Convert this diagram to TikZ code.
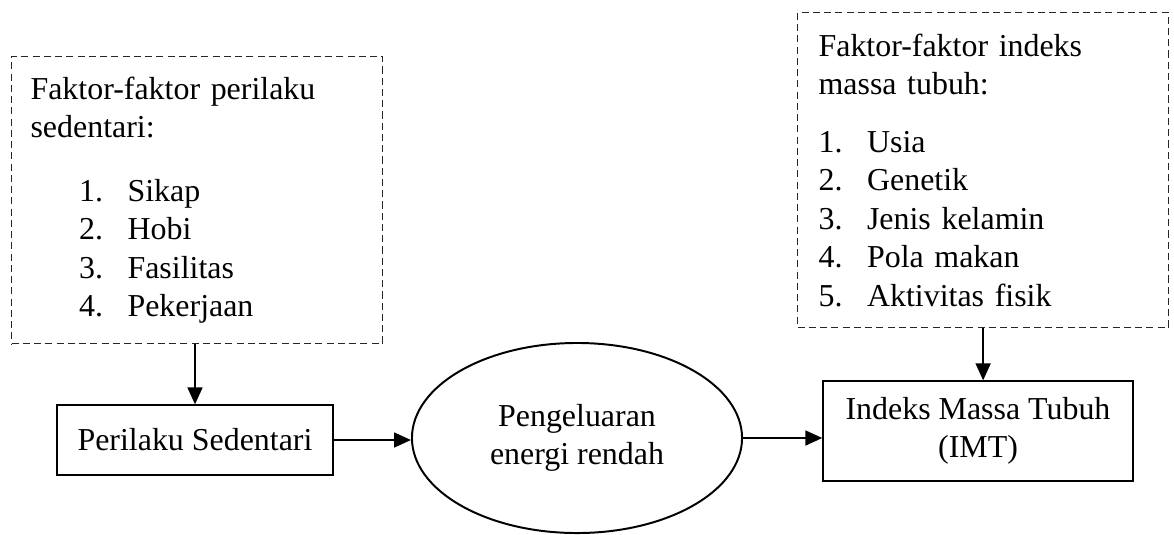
\documentclass[tikz,border=0pt]{standalone}
\usepackage{fontspec}
\setmainfont{Liberation Serif}
\usetikzlibrary{arrows.meta, shapes.geometric}

\newcommand{\butir}[2]{\makebox[34.5pt][l]{#1}#2}

\begin{document}
\begin{tikzpicture}[x=0.025cm, y=-0.025cm,
  every node/.style={font=\fontsize{22.7}{27.3}\selectfont},
  kotakputus/.style={draw=black!85, dash pattern=on 5pt off 3pt, line width=0.8pt, align=left, anchor=north west},
  kotak/.style={draw, line width=0.9pt, align=center},
  panah/.style={-{Triangle[length=12pt,width=10.5pt]}, line width=1.5pt}]
\useasboundingbox (0,0) rectangle (1174,534);
% kotak faktor (garis putus-putus)
\node[kotakputus, text width=8.325cm, inner xsep=0.475cm, minimum height=7.175cm] (faktorsed) at (11,56)
  {Faktor-faktor perilaku\\
   sedentari:\\[18pt]
   \hspace*{34.5pt}\butir{1.}{Sikap}\\
   \hspace*{34.5pt}\butir{2.}{Hobi}\\
   \hspace*{34.5pt}\butir{3.}{Fasilitas}\\
   \hspace*{34.5pt}\butir{4.}{Pekerjaan}};
\node[kotakputus, text width=8.225cm, inner xsep=0.525cm, minimum height=7.875cm] (faktorimt) at (797,12)
  {Faktor-faktor indeks\\
   massa tubuh:\\[14pt]
   \butir{1.}{Usia}\\
   \butir{2.}{Genetik}\\
   \butir{3.}{Jenis kelamin}\\
   \butir{4.}{Pola makan}\\
   \butir{5.}{Aktivitas fisik}};
% alur utama
\node[kotak, minimum width=6.9cm, minimum height=1.75cm] (perilaku) at (195,440) {Perilaku Sedentari};
\node[ellipse, draw, line width=1.4pt, minimum width=8.25cm, minimum height=4.75cm, inner sep=0pt, align=center] (energi) at (577,438)
  {Pengeluaran\\energi rendah};
\node[kotak, minimum width=7.75cm, minimum height=2.5cm] (imt) at (978,431) {Indeks Massa Tubuh\\(IMT)};
% panah
\draw[panah] (faktorsed.south -| perilaku.north) -- (perilaku.north);
\draw[panah] (perilaku.east) -- (perilaku.east -| energi.west);
\draw[panah] (energi.east) -- (energi.east -| imt.west);
\draw[panah] (faktorimt.south) -- (faktorimt.south |- imt.north);
\end{tikzpicture}
\end{document}
